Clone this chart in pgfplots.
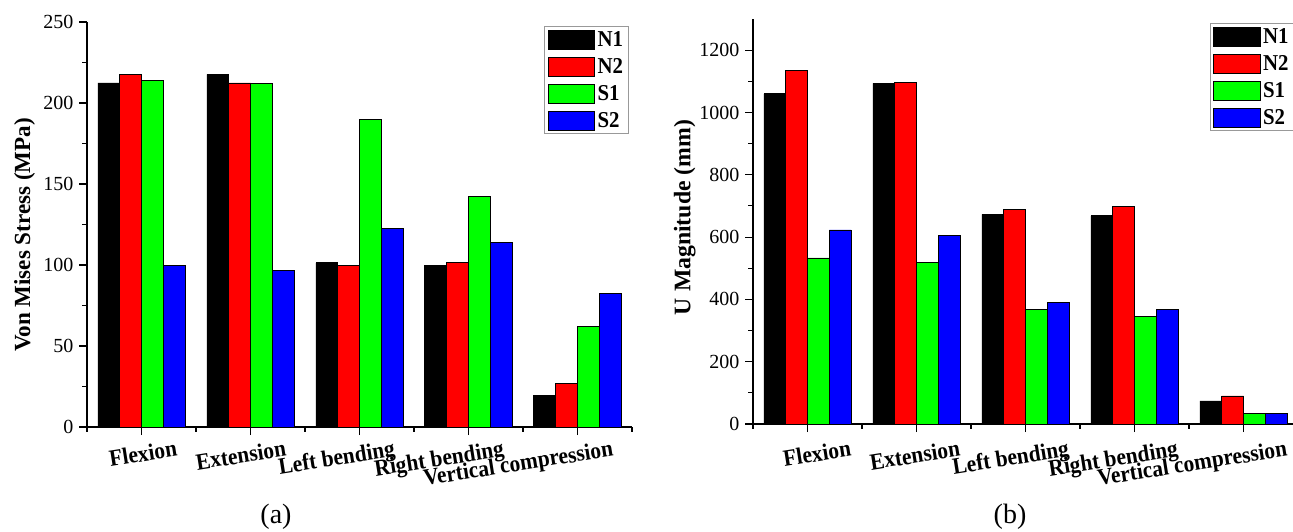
\documentclass[border=0pt]{standalone}
\usepackage{pgfplots}
\pgfplotsset{compat=1.18}
\usepackage{pgfplotstable}
\usepackage{fontspec}
\setmainfont{Liberation Serif}
\newfontfamily\cond{Liberation Serif}[FakeStretch=0.92]

\pgfplotstableread{
x N1 N2 S1 S2
0 212.4 217.7 214.0 99.6
1 217.7 212.4 211.8 96.8
2 101.3 99.6 189.8 122.8
3 99.6 101.3 142.2 114.0
4 19.5 27.1 62.0 82.2
}\stressdata

\pgfplotstableread{
x N1 N2 S1 S2
0 1060 1136 533 623
1 1093 1097 518 606
2 673 690 367 390
3 668 697 345 367
4 74 90 35 35
}\umagdata

\pgfplotsset{
  lb/.style={legend image code/.code={\draw[##1, line width=0.6pt] (0pt,-7pt) rectangle (35pt,7pt);}},
  barsbase/.style={
    scale only axis, width=408.75pt, height=303.75pt,
    xmin=-0.5, xmax=4.5, ymin=0,
    axis x line*=bottom, axis y line*=left,
    xtick={0,...,4}, minor xtick={-0.5,0.5,...,4.5},
    xticklabels={Flexion,Extension,Left bending,Right bending,Vertical compression},
    minor y tick num=1,
    tick align=outside, major tick length=6pt, minor tick length=3.5pt,
    every tick/.style={black, line width=0.8pt},
    axis line style={line width=1pt, black},
    scaled y ticks=false,
    /pgf/number format/assume math mode=true,
    /pgf/number format/1000 sep={},
    yticklabel style={font=\fontsize{15}{15}\selectfont, inner sep=0pt, anchor=east, xshift=-4pt},
    ybar=0pt, bar width=0.2,
    every axis plot/.append style={draw=black, line width=0.6pt},
    legend cell align=left,
    legend style={draw=gray!80, line width=0.8pt, font=\cond\bfseries\fontsize{17}{17}\selectfont,
      inner xsep=2pt, inner ysep=1.5pt, row sep=3.5pt},
  },
}

\begin{document}
\begin{tikzpicture}
\path[use as bounding box] (0,0) rectangle (969.75pt,-399pt);

% (a)
\begin{axis}[barsbase,
  at={(65.25pt,-320.25pt)}, anchor=south west,
  ymax=250, ytick={0,50,...,250},
  xticklabel style={font=\cond\bfseries\fontsize{17.5}{17.5}\selectfont, inner sep=0pt, anchor=north east, xshift=25.5pt, yshift=-3.5pt, rotate=9},
  ylabel={Von Mises Stress (MPa)},
  ylabel style={font=\bfseries\fontsize{17.3}{17.3}\selectfont, at={(rel axis cs:-0.1145,0.474)}, anchor=center},
  legend style={at={(rel axis cs:0.9945,0.99)}, anchor=north east},
]
\addplot[fill=black, bar shift=-0.3, lb] table[x=x,y=N1] {\stressdata};
\addplot[fill=red, bar shift=-0.1, lb] table[x=x,y=N2] {\stressdata};
\addplot[fill=green, bar shift=0.1, lb] table[x=x,y=S1] {\stressdata};
\addplot[fill=blue, bar shift=0.3, lb] table[x=x,y=S2] {\stressdata};
\legend{N1,N2,S1,S2}
\end{axis}

% (b)
\begin{axis}[barsbase,
  at={(564.75pt,-318pt)}, anchor=south west,
  ymax=1300, ytick={0,200,...,1200},
  xticklabel style={font=\cond\bfseries\fontsize{17.5}{17.5}\selectfont, inner sep=0pt, anchor=north east, xshift=31.5pt, yshift=-5.75pt, rotate=9},
  ylabel={U Magnitude (mm)},
  ylabel style={font=\bfseries\fontsize{17.8}{17.8}\selectfont, at={(rel axis cs:-0.125,0.51)}, anchor=center},
  legend style={at={(rel axis cs:0.838,0.99)}, anchor=north west},
]
\addplot[fill=black, bar shift=-0.3, lb] table[x=x,y=N1] {\umagdata};
\addplot[fill=red, bar shift=-0.1, lb] table[x=x,y=N2] {\umagdata};
\addplot[fill=green, bar shift=0.1, lb] table[x=x,y=S1] {\umagdata};
\addplot[fill=blue, bar shift=0.3, lb] table[x=x,y=S2] {\umagdata};
\legend{N1,N2,S1,S2}
\end{axis}

\node[font=\fontsize{21}{21}\selectfont] at (207pt,-387.75pt) {(a)};
\node[font=\fontsize{21}{21}\selectfont] at (757.5pt,-387.75pt) {(b)};
\end{tikzpicture}
\end{document}
